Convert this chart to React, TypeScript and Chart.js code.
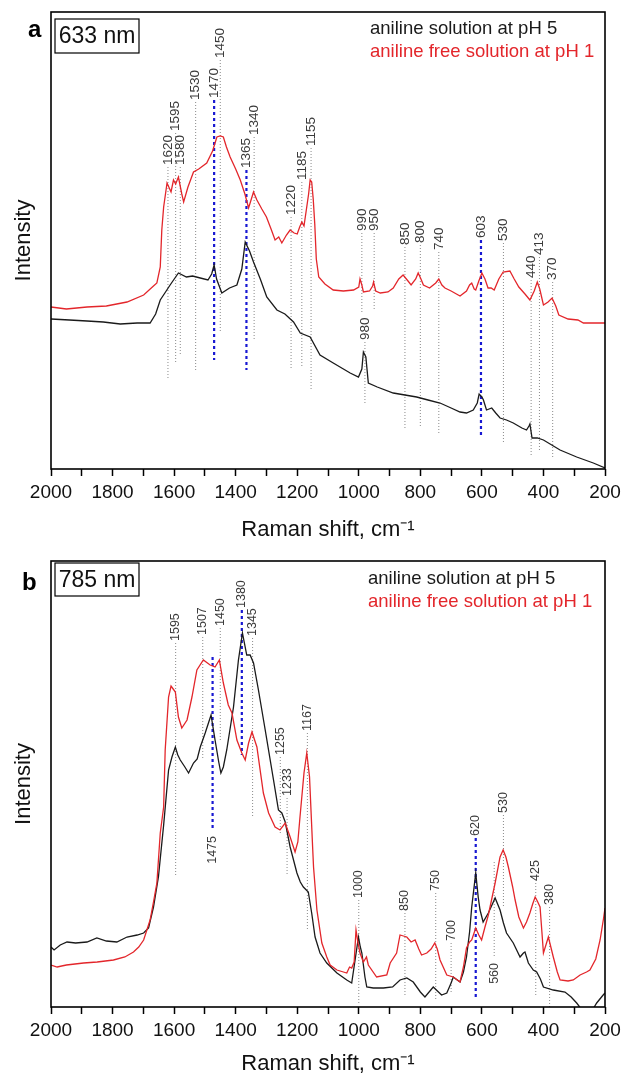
import React, { useEffect, useRef } from 'react';
import { Chart, registerables } from 'chart.js';

Chart.register(...registerables);

// ---------------- data ----------------
const seriesNames = ['aniline solution at pH 5', 'aniline free solution at pH 1'];
const panelLetters = ['a', 'b'];
const excitations = ['633 nm', '785 nm'];
const xTicksMin = 200;
const xTicksMax = 2000;

// Panel a (633 nm): [Raman shift, intensity]
const aBlack: [number, number][] = [
  [2000,150],[1940,149],[1883,148],[1830,147],[1775,145],[1720,146],[1678,146],[1660,155],[1645,169],[1630,176],
  [1613,184],[1586,196],[1560,192],[1540,193],[1515,191],[1490,189],[1478,195],[1470,204],[1462,190],[1445,176],
  [1420,181],[1396,184],[1380,200],[1369,227],[1355,218],[1342,207],[1320,190],[1299,172],[1266,159],[1240,155],
  [1212,147],[1190,136],[1158,132],[1126,114],[1083,106],[1028,96],[1001,92],[990,100],[985,117],[977,112],
  [969,86],[940,82],[888,76],[850,74],[812,72],[775,69],[736,66],[700,61],[671,57],[650,56],
  [628,59],[615,66],[609,75],[600,72],[595,69],[585,59],[568,61],[555,56],[541,51],[520,49],
  [498,46],[470,41],[455,39],[447,43],[444,45],[437,31],[420,31],[400,29],[346,19],[292,12],[238,6],[200,1],
];
const aRed: [number, number][] = [
  [2000,162],[1950,160],[1883,162],[1820,163],[1753,167],[1699,174],[1667,183],[1656,186],[1645,202],[1640,239],
  [1634,262],[1623,286],[1610,277],[1602,289],[1595,285],[1586,292],[1575,275],[1569,267],[1555,282],[1537,297],
  [1520,300],[1494,306],[1475,318],[1461,332],[1450,333],[1440,332],[1430,322],[1418,312],[1400,300],[1385,289],
  [1370,275],[1358,261],[1342,277],[1331,269],[1315,260],[1300,252],[1285,240],[1272,229],[1260,232],[1250,226],
  [1235,234],[1223,239],[1210,236],[1200,235],[1192,242],[1185,247],[1178,243],[1170,260],[1163,275],[1158,289],
  [1153,287],[1148,270],[1143,245],[1138,210],[1130,192],[1110,185],[1083,179],[1050,178],[1017,179],[1000,182],
  [996,190],[990,184],[985,177],[965,178],[955,183],[952,187],[945,178],[930,176],[905,177],[888,181],
  [870,190],[856,194],[840,188],[830,184],[815,190],[807,196],[798,190],[790,184],[770,181],[750,186],
  [740,190],[730,184],[720,181],[700,178],[671,173],[650,178],[640,184],[633,186],[625,180],[620,179],
  [610,188],[600,196],[590,190],[580,181],[570,181],[560,179],[545,190],[531,197],[509,198],[495,190],
  [480,182],[460,175],[444,169],[430,178],[420,187],[412,180],[400,164],[385,167],[372,171],[360,163],
  [350,154],[320,150],[288,149],[270,146],[240,146],[200,146],
];
// [band, label level, line end level]
const aPeakMarks: [number, number, number][] = [
  [1620,302,89],[1595,336,107],[1580,302,113],[1530,367,99],[1470,369,109],[1450,409,137],[1365,299,99],
  [1340,332,129],[1220,252,99],[1185,287,101],[1155,321,79],[990,236,156],[950,236,159],[980,127,64],
  [850,222,41],[800,224,42],[740,217,36],[603,229,32],[530,226,27],[440,189,14],[413,212,19],[370,187,11],
];
const aBluePeaks = [1470, 1365, 603];
const aLabelsBelow: number[] = [];

// Panel b (785 nm)
const bBlack: [number, number][] = [
  [2000,60],[1990,57],[1970,62],[1948,65],[1920,64],[1883,65],[1851,69],[1820,66],[1786,65],[1753,70],
  [1720,72],[1699,74],[1683,79],[1667,100],[1651,130],[1634,182],[1618,237],[1607,250],[1596,260],[1588,252],
  [1580,247],[1565,240],[1553,234],[1537,244],[1525,248],[1515,260],[1499,274],[1480,292],[1467,267],[1455,245],
  [1448,234],[1440,240],[1429,257],[1407,300],[1391,347],[1378,374],[1364,352],[1353,352],[1342,344],[1326,317],
  [1304,277],[1277,227],[1261,197],[1250,194],[1239,185],[1223,160],[1201,134],[1190,125],[1180,120],[1164,115],
  [1153,94],[1142,70],[1126,54],[1104,44],[1071,34],[1039,27],[1023,24],[1012,47],[1001,70],[995,60],
  [990,54],[980,30],[974,20],[953,19],[920,19],[890,20],[866,27],[844,29],[823,25],[800,15],
  [785,10],[758,20],[731,12],[714,14],[700,24],[693,30],[680,27],[671,25],[660,35],[650,50],
  [640,75],[633,100],[620,134],[612,110],[606,97],[596,85],[579,94],[557,109],[541,97],[530,84],
  [520,74],[498,64],[476,50],[465,54],[460,55],[449,44],[433,37],[422,35],[410,28],[400,20],
  [368,17],[330,15],[310,10],[292,4],[270,-5],[250,-8],[235,0],[227,4],[206,12],[200,14],
];
const bRed: [number, number][] = [
  [2000,42],[1980,40],[1950,42],[1894,44],[1850,45],[1797,47],[1760,50],[1732,55],[1715,60],[1699,67],
  [1678,87],[1667,105],[1656,124],[1645,174],[1634,200],[1629,257],[1618,310],[1610,321],[1603,318],[1596,315],
  [1586,290],[1575,279],[1558,287],[1542,310],[1526,337],[1505,347],[1483,342],[1467,340],[1453,347],[1440,324],
  [1424,302],[1412,294],[1396,267],[1380,254],[1369,247],[1358,264],[1347,275],[1331,260],[1310,214],[1293,194],
  [1272,180],[1256,177],[1239,184],[1223,170],[1207,155],[1198,165],[1191,190],[1178,234],[1169,254],[1160,230],
  [1150,160],[1147,140],[1136,97],[1120,64],[1104,50],[1093,42],[1071,37],[1050,35],[1039,34],[1030,40],
  [1023,39],[1015,45],[1009,77],[1003,65],[996,54],[985,45],[975,50],[969,42],[942,30],[909,32],
  [898,44],[877,54],[866,72],[855,71],[844,70],[830,65],[817,67],[805,58],[796,52],[779,54],
  [765,58],[753,64],[745,58],[736,47],[714,32],[693,30],[671,25],[660,40],[650,59],[640,65],
  [633,67],[620,79],[610,72],[601,67],[590,80],[579,92],[568,108],[557,124],[541,150],[531,157],
  [522,150],[514,140],[500,120],[492,107],[480,90],[465,79],[455,85],[444,94],[435,103],[427,110],
  [420,106],[411,100],[405,75],[400,54],[392,62],[384,70],[376,60],[368,50],[355,35],[346,27],
  [320,26],[303,27],[281,32],[260,35],[249,37],[230,48],[216,67],[205,88],[200,99],
];
const bPeakMarks: [number, number, number][] = [
  [1595,364,130],[1507,370,247],[1450,379,267],[1380,397,252],[1345,369,190],[1475,350,177],
  [1255,250,174],[1233,209,132],[1167,274,77],[1000,107,4],[850,94,10],[750,114,7],[700,64,14],
  [620,169,7],[560,145,50],[530,192,100],[425,124,10],[380,100,0],
];
const bBluePeaks = [1380, 1475, 620];
const bLabelsBelow = [1475, 560];

// ---------------- styles ----------------
const FONT = "'Liberation Sans', Arial, sans-serif";
const BLACK = '#1a1a1a';
const RED = '#e3262b';
const BLUE = '#1818d2';

const overlayPlugin = {
  id: 'overlay',
  beforeDatasetsDraw(chart: any, _args: any, o: any) {
    const { ctx, chartArea, scales } = chart;
    const x = scales.x, y = scales.y;
    ctx.save();
    ctx.beginPath();
    ctx.rect(chartArea.left, chartArea.top, chartArea.right - chartArea.left, chartArea.bottom - chartArea.top);
    ctx.clip();
    for (const [band, lvTop, lvBot] of o.marks as [number, number, number][]) {
      const px = x.getPixelForValue(band);
      const yt = y.getPixelForValue(lvTop);
      const yb = y.getPixelForValue(lvBot);
      const blue = o.blue.includes(band);
      const below = o.below.includes(band);
      ctx.save();
      ctx.beginPath();
      ctx.setLineDash(blue ? [3, 3] : [1, 2]);
      ctx.strokeStyle = blue ? BLUE : '#8a8a8a';
      ctx.lineWidth = blue ? 2.2 : 1;
      ctx.moveTo(px, yt);
      ctx.lineTo(px, yb);
      ctx.stroke();
      ctx.restore();
      ctx.save();
      ctx.translate(px, below ? yb + 6 : yt - 2);
      ctx.rotate(-Math.PI / 2);
      ctx.font = `${o.labelSize}px ${FONT}`;
      ctx.fillStyle = '#3a3a3a';
      ctx.textAlign = below ? 'right' : 'left';
      ctx.textBaseline = 'middle';
      ctx.fillText(String(band), 0, 0);
      ctx.restore();
    }
    ctx.restore();
  },
  afterDraw(chart: any, _args: any, o: any) {
    const { ctx, chartArea } = chart;
    const { left, top, right, bottom } = chartArea;
    ctx.save();
    // frame
    ctx.strokeStyle = '#000';
    ctx.lineWidth = 1.6;
    ctx.strokeRect(left, top, right - left, bottom - top);
    // excitation box
    ctx.lineWidth = 1.2;
    ctx.strokeRect(left + 4, top + o.boxDy, 84, o.boxH);
    ctx.fillStyle = '#111';
    ctx.font = `23px ${FONT}`;
    ctx.textAlign = 'center';
    ctx.textBaseline = 'middle';
    ctx.fillText(o.excitation, left + 46, top + o.boxDy + o.boxH / 2 + 1);
    // panel letter
    ctx.font = `bold 24px ${FONT}`;
    ctx.textAlign = 'left';
    ctx.textBaseline = 'alphabetic';
    ctx.fillStyle = '#000';
    ctx.fillText(o.letter, left + o.letterDx, top + o.letterDy);
    // legend text
    ctx.font = `18.5px ${FONT}`;
    ctx.textBaseline = 'middle';
    ctx.fillStyle = BLACK;
    ctx.fillText(seriesNames[0], left + o.legendDx, top + o.legendDy);
    ctx.fillStyle = RED;
    ctx.fillText(seriesNames[1], left + o.legendDx, top + o.legendDy + 23);
    ctx.restore();
  },
};

function makeChart(canvas: HTMLCanvasElement, p: any) {
  return new Chart(canvas, {
    type: 'line',
    data: {
      datasets: [
        {
          label: seriesNames[1],
          data: p.red.map(([x, y]: number[]) => ({ x, y })),
          borderColor: RED,
          borderWidth: 1.3,
          pointRadius: 0,
          tension: 0,
          fill: false,
        },
        {
          label: seriesNames[0],
          data: p.black.map(([x, y]: number[]) => ({ x, y })),
          borderColor: BLACK,
          borderWidth: 1.3,
          pointRadius: 0,
          tension: 0,
          fill: false,
        },
      ],
    },
    options: {
      responsive: false,
      animation: false,
      devicePixelRatio: 1,
      layout: { padding: { top: p.padTop, right: 17, left: 0, bottom: 0 } },
      plugins: {
        legend: { display: false },
        tooltip: { enabled: false },
        overlay: p.overlay,
      } as any,
      scales: {
        x: {
          type: 'linear',
          reverse: true,
          min: xTicksMin,
          max: xTicksMax,
          afterFit: (s: any) => {
            s.height = p.xAxisHeight;
            s.paddingLeft = 0;
            s.paddingRight = 0;
          },
          ticks: {
            stepSize: 100,
            autoSkip: false,
            maxRotation: 0,
            padding: 5,
            color: '#111',
            font: { family: FONT, size: 19 },
            callback: (v: any) => (Number(v) % 200 === 0 ? String(v) : ''),
          },
          grid: { display: true, drawOnChartArea: false, drawTicks: true, tickLength: 7, tickColor: '#000', tickWidth: 1.5 },
          border: { display: false },
          title: {
            display: true,
            text: 'Raman shift, cm⁻¹',
            color: '#111',
            font: { family: FONT, size: 22 },
            padding: { top: 0, bottom: 2 },
          },
        },
        y: {
          min: 0,
          max: p.yMax,
          afterFit: (s: any) => { s.width = 51; },
          ticks: { display: false },
          grid: { display: false },
          border: { display: false },
          title: {
            display: true,
            text: 'Intensity',
            color: '#111',
            font: { family: FONT, size: 22 },
            padding: { top: 11, bottom: 0 },
          },
        },
      },
    } as any,
    plugins: [overlayPlugin as any],
  });
}

export default function App() {
  const refA = useRef<HTMLCanvasElement>(null);
  const refB = useRef<HTMLCanvasElement>(null);

  useEffect(() => {
    const chartA = makeChart(refA.current!, {
      red: aRed,
      black: aBlack,
      padTop: 12,
      xAxisHeight: 76,
      yMax: 457,
      overlay: {
        marks: aPeakMarks,
        blue: aBluePeaks,
        below: aLabelsBelow,
        labelSize: 13.5,
        excitation: excitations[0],
        letter: panelLetters[0],
        letterDx: -23,
        letterDy: 25,
        boxDy: 7,
        boxH: 34,
        legendDx: 319,
        legendDy: 17,
      },
    });
    const chartB = makeChart(refB.current!, {
      red: bRed,
      black: bBlack,
      padTop: 16,
      xAxisHeight: 72,
      yMax: 446,
      overlay: {
        marks: bPeakMarks,
        blue: bBluePeaks,
        below: bLabelsBelow,
        labelSize: 12.5,
        excitation: excitations[1],
        letter: panelLetters[1],
        letterDx: -29,
        letterDy: 29,
        boxDy: 2,
        boxH: 33,
        legendDx: 317,
        legendDy: 18,
      },
    });
    return () => {
      chartA.destroy();
      chartB.destroy();
    };
  }, []);

  return (
    <div style={{ position: 'absolute', left: 0, top: 0, width: 622, height: 1079, background: '#fff' }}>
      <canvas ref={refA} width={622} height={545} style={{ position: 'absolute', left: 0, top: 0, display: 'block' }} />
      <canvas ref={refB} width={622} height={534} style={{ position: 'absolute', left: 0, top: 545, display: 'block' }} />
    </div>
  );
}
